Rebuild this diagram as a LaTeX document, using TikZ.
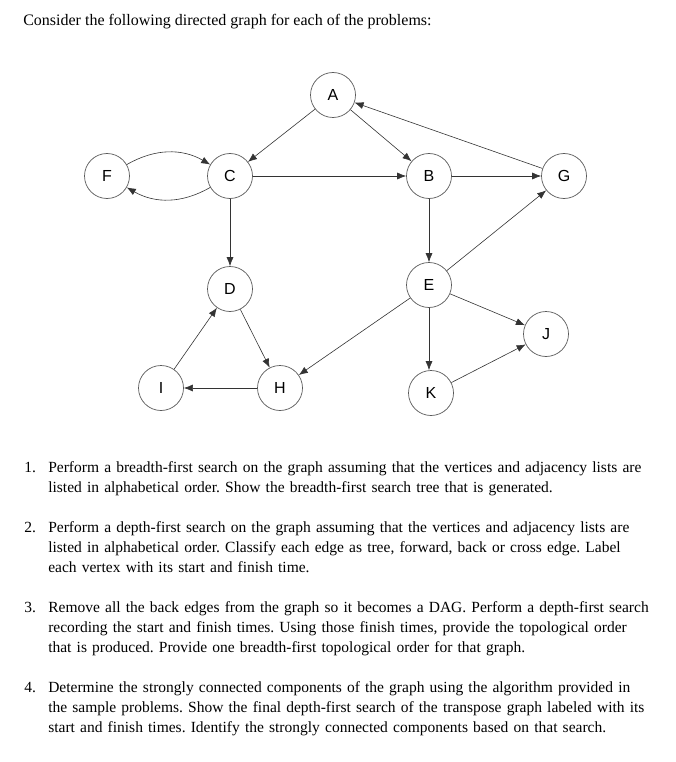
\documentclass[tikz,border=0pt]{standalone}
\usepackage{fontspec}
\setmainfont{Liberation Serif}
\setsansfont{Liberation Sans}
\usetikzlibrary{arrows.meta,positioning}
\tikzset{
	every node/.style={font=\sffamily},
	main node/.style={circle,draw=black!65,line width=0.7pt,minimum size=45pt,inner sep=0pt,text=black,font=\sffamily\fontsize{16}{16}\selectfont},
	text line/.style={anchor=base west,inner sep=0pt,text=black,font=\rmfamily\fontsize{15.5}{20}\selectfont\frenchspacing},
	item text/.style={text line,text width=660pt,align=left}
}

\begin{document}
\begin{tikzpicture}[x=1pt, y=-1pt, ->, >={Latex[length=9pt,width=7pt]},
	line width=0.6pt, color=black!80]
	\useasboundingbox (0,0) rectangle (676,762);

	\node[text line,font=\rmfamily\fontsize{16}{20}\selectfont] (head) at (23,26) {Consider the following directed graph for each of the problems:};

	% Vertices
	\node[main node] (A) at (333,95) {A};
	\node[main node] (F) at (107,176) {F};
	\node[main node] (C) at (230,176) {C};
	\node[main node] (B) at (429,176) {B};
	\node[main node] (G) at (564,176) {G};
	\node[main node] (D) at (230,289) {D};
	\node[main node] (E) at (429,285) {E};
	\node[main node] (J) at (546,334) {J};
	\node[main node] (I) at (161,388) {I};
	\node[main node] (H) at (280,388) {H};
	\node[main node] (K) at (431,393) {K};

	% Top Arrows
	\draw (A) -- (C);
	\draw (A) -- (B);
	\draw (G) -- (A);

	% Horizontal Arrows
	\draw (F) to[bend left=30] (C);
	\draw (C) to[bend left=30] (F);
	\draw (C) -- (B);
	\draw (B) -- (G);
	\draw (H) -- (I);

	% Vertical Arrows
	\draw (C) -- (D);
	\draw (B) -- (E);
	\draw (E) -- (E |- K.north);

	% Diagonal Arrows
	\draw (E) -- (G);
	\draw (E) -- (H);
	\draw (E) -- (J);
	\draw (K) -- (J);
	\draw (D) -- (H);
	\draw (I) -- (D);

	% Problems
	\node[text line] (n1) at (24,472) {1.};
	\node[item text] (t1) at (48,472) {Perform a breadth-first search on the graph assuming that the vertices and adjacency lists are\\
		listed in alphabetical order. Show the breadth-first search tree that is generated.};
	\node[text line] (n2) at (24,532) {2.};
	\node[item text] (t2) at (48,532) {Perform a depth-first search on the graph assuming that the vertices and adjacency lists are\\
		listed in alphabetical order. Classify each edge as tree, forward, back or cross edge. Label\\
		each vertex with its start and finish time.};
	\node[text line] (n3) at (24,612) {3.};
	\node[item text] (t3) at (48,612) {Remove all the back edges from the graph so it becomes a DAG. Perform a depth-first search\\
		recording the start and finish times. Using those finish times, provide the topological order\\
		that is produced. Provide one breadth-first topological order for that graph.};
	\node[text line] (n4) at (24,692) {4.};
	\node[item text] (t4) at (48,692) {Determine the strongly connected components of the graph using the algorithm provided in\\
		the sample problems. Show the final depth-first search of the transpose graph labeled with its\\
		start and finish times. Identify the strongly connected components based on that search.};
\end{tikzpicture}
\end{document}
